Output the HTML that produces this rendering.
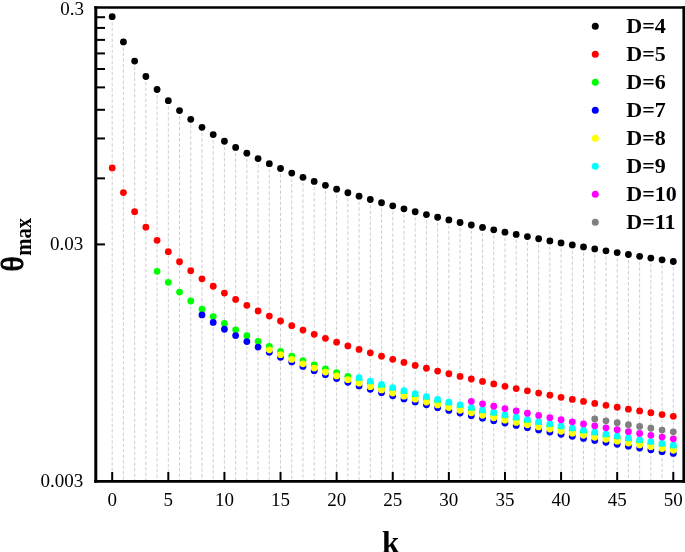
<!DOCTYPE html>
<html><head><meta charset="utf-8"><title>theta max vs k</title>
<style>html,body{margin:0;padding:0;background:#fff}svg{display:block}text{font-family:"Liberation Serif","Times New Roman",serif;fill:#000}</style></head><body>
<svg width="685" height="552" viewBox="0 0 685 552">
<rect width="685" height="552" fill="#fff"/>
<g stroke="#cfcfcf" stroke-width="1" stroke-dasharray="3.5 2" fill="none">
<line x1="112.20" y1="16.70" x2="112.20" y2="481.30"/>
<line x1="123.42" y1="41.88" x2="123.42" y2="481.30"/>
<line x1="134.64" y1="61.03" x2="134.64" y2="481.30"/>
<line x1="145.87" y1="76.50" x2="145.87" y2="481.30"/>
<line x1="157.09" y1="89.49" x2="157.09" y2="481.30"/>
<line x1="168.31" y1="100.70" x2="168.31" y2="481.30"/>
<line x1="179.53" y1="110.56" x2="179.53" y2="481.30"/>
<line x1="190.75" y1="119.36" x2="190.75" y2="481.30"/>
<line x1="201.98" y1="127.32" x2="201.98" y2="481.30"/>
<line x1="213.20" y1="134.58" x2="213.20" y2="481.30"/>
<line x1="224.42" y1="141.26" x2="224.42" y2="481.30"/>
<line x1="235.64" y1="147.45" x2="235.64" y2="481.30"/>
<line x1="246.86" y1="153.22" x2="246.86" y2="481.30"/>
<line x1="258.09" y1="158.62" x2="258.09" y2="481.30"/>
<line x1="269.31" y1="163.69" x2="269.31" y2="481.30"/>
<line x1="280.53" y1="168.49" x2="280.53" y2="481.30"/>
<line x1="291.75" y1="173.03" x2="291.75" y2="481.30"/>
<line x1="302.97" y1="177.34" x2="302.97" y2="481.30"/>
<line x1="314.20" y1="181.45" x2="314.20" y2="481.30"/>
<line x1="325.42" y1="185.37" x2="325.42" y2="481.30"/>
<line x1="336.64" y1="189.13" x2="336.64" y2="481.30"/>
<line x1="347.86" y1="192.73" x2="347.86" y2="481.30"/>
<line x1="359.08" y1="196.19" x2="359.08" y2="481.30"/>
<line x1="370.31" y1="199.52" x2="370.31" y2="481.30"/>
<line x1="381.53" y1="202.74" x2="381.53" y2="481.30"/>
<line x1="392.75" y1="205.84" x2="392.75" y2="481.30"/>
<line x1="403.97" y1="208.83" x2="403.97" y2="481.30"/>
<line x1="415.19" y1="211.73" x2="415.19" y2="481.30"/>
<line x1="426.42" y1="214.55" x2="426.42" y2="481.30"/>
<line x1="437.64" y1="217.27" x2="437.64" y2="481.30"/>
<line x1="448.86" y1="219.92" x2="448.86" y2="481.30"/>
<line x1="460.08" y1="222.50" x2="460.08" y2="481.30"/>
<line x1="471.30" y1="225.00" x2="471.30" y2="481.30"/>
<line x1="482.53" y1="227.44" x2="482.53" y2="481.30"/>
<line x1="493.75" y1="229.82" x2="493.75" y2="481.30"/>
<line x1="504.97" y1="232.14" x2="504.97" y2="481.30"/>
<line x1="516.19" y1="234.40" x2="516.19" y2="481.30"/>
<line x1="527.41" y1="236.61" x2="527.41" y2="481.30"/>
<line x1="538.64" y1="238.77" x2="538.64" y2="481.30"/>
<line x1="549.86" y1="240.88" x2="549.86" y2="481.30"/>
<line x1="561.08" y1="242.95" x2="561.08" y2="481.30"/>
<line x1="572.30" y1="244.97" x2="572.30" y2="481.30"/>
<line x1="583.52" y1="246.96" x2="583.52" y2="481.30"/>
<line x1="594.75" y1="248.90" x2="594.75" y2="481.30"/>
<line x1="605.97" y1="250.80" x2="605.97" y2="481.30"/>
<line x1="617.19" y1="252.67" x2="617.19" y2="481.30"/>
<line x1="628.41" y1="254.50" x2="628.41" y2="481.30"/>
<line x1="639.63" y1="256.30" x2="639.63" y2="481.30"/>
<line x1="650.86" y1="258.07" x2="650.86" y2="481.30"/>
<line x1="662.08" y1="259.81" x2="662.08" y2="481.30"/>
<line x1="673.30" y1="261.52" x2="673.30" y2="481.30"/>
</g>
<g stroke="#000" fill="none" stroke-linecap="butt">
<line x1="95.8" y1="6.2" x2="95.8" y2="482.7" stroke-width="3"/>
<line x1="94.3" y1="7.5" x2="685" y2="7.5" stroke-width="2.6"/>
<line x1="94.3" y1="481.3" x2="685" y2="481.3" stroke-width="2.7"/>
<line x1="683.9" y1="6.2" x2="683.9" y2="482.7" stroke-width="3"/>
<line x1="97" y1="244.40" x2="105" y2="244.40" stroke-width="2"/>
<line x1="97" y1="178.36" x2="105" y2="178.36" stroke-width="2"/>
<line x1="97" y1="138.47" x2="105" y2="138.47" stroke-width="2"/>
<line x1="97" y1="109.79" x2="105" y2="109.79" stroke-width="2"/>
<line x1="97" y1="87.39" x2="105" y2="87.39" stroke-width="2"/>
<line x1="97" y1="69.01" x2="105" y2="69.01" stroke-width="2"/>
<line x1="97" y1="53.42" x2="105" y2="53.42" stroke-width="2"/>
<line x1="97" y1="39.88" x2="105" y2="39.88" stroke-width="2"/>
<line x1="97" y1="27.92" x2="105" y2="27.92" stroke-width="2"/>
<line x1="97" y1="17.20" x2="105" y2="17.20" stroke-width="2"/>
<line x1="112.20" y1="472" x2="112.20" y2="480.5" stroke-width="2"/>
<line x1="168.31" y1="472" x2="168.31" y2="480.5" stroke-width="2"/>
<line x1="224.42" y1="472" x2="224.42" y2="480.5" stroke-width="2"/>
<line x1="280.53" y1="472" x2="280.53" y2="480.5" stroke-width="2"/>
<line x1="336.64" y1="472" x2="336.64" y2="480.5" stroke-width="2"/>
<line x1="392.75" y1="472" x2="392.75" y2="480.5" stroke-width="2"/>
<line x1="448.86" y1="472" x2="448.86" y2="480.5" stroke-width="2"/>
<line x1="504.97" y1="472" x2="504.97" y2="480.5" stroke-width="2"/>
<line x1="561.08" y1="472" x2="561.08" y2="480.5" stroke-width="2"/>
<line x1="617.19" y1="472" x2="617.19" y2="480.5" stroke-width="2"/>
<line x1="673.30" y1="472" x2="673.30" y2="480.5" stroke-width="2"/>
</g>
<g fill="#000000">
<circle cx="112.20" cy="16.70" r="3.4"/>
<circle cx="123.42" cy="41.88" r="3.4"/>
<circle cx="134.64" cy="61.03" r="3.4"/>
<circle cx="145.87" cy="76.50" r="3.4"/>
<circle cx="157.09" cy="89.49" r="3.4"/>
<circle cx="168.31" cy="100.70" r="3.4"/>
<circle cx="179.53" cy="110.56" r="3.4"/>
<circle cx="190.75" cy="119.36" r="3.4"/>
<circle cx="201.98" cy="127.32" r="3.4"/>
<circle cx="213.20" cy="134.58" r="3.4"/>
<circle cx="224.42" cy="141.26" r="3.4"/>
<circle cx="235.64" cy="147.45" r="3.4"/>
<circle cx="246.86" cy="153.22" r="3.4"/>
<circle cx="258.09" cy="158.62" r="3.4"/>
<circle cx="269.31" cy="163.69" r="3.4"/>
<circle cx="280.53" cy="168.49" r="3.4"/>
<circle cx="291.75" cy="173.03" r="3.4"/>
<circle cx="302.97" cy="177.34" r="3.4"/>
<circle cx="314.20" cy="181.45" r="3.4"/>
<circle cx="325.42" cy="185.37" r="3.4"/>
<circle cx="336.64" cy="189.13" r="3.4"/>
<circle cx="347.86" cy="192.73" r="3.4"/>
<circle cx="359.08" cy="196.19" r="3.4"/>
<circle cx="370.31" cy="199.52" r="3.4"/>
<circle cx="381.53" cy="202.74" r="3.4"/>
<circle cx="392.75" cy="205.84" r="3.4"/>
<circle cx="403.97" cy="208.83" r="3.4"/>
<circle cx="415.19" cy="211.73" r="3.4"/>
<circle cx="426.42" cy="214.55" r="3.4"/>
<circle cx="437.64" cy="217.27" r="3.4"/>
<circle cx="448.86" cy="219.92" r="3.4"/>
<circle cx="460.08" cy="222.50" r="3.4"/>
<circle cx="471.30" cy="225.00" r="3.4"/>
<circle cx="482.53" cy="227.44" r="3.4"/>
<circle cx="493.75" cy="229.82" r="3.4"/>
<circle cx="504.97" cy="232.14" r="3.4"/>
<circle cx="516.19" cy="234.40" r="3.4"/>
<circle cx="527.41" cy="236.61" r="3.4"/>
<circle cx="538.64" cy="238.77" r="3.4"/>
<circle cx="549.86" cy="240.88" r="3.4"/>
<circle cx="561.08" cy="242.95" r="3.4"/>
<circle cx="572.30" cy="244.97" r="3.4"/>
<circle cx="583.52" cy="246.96" r="3.4"/>
<circle cx="594.75" cy="248.90" r="3.4"/>
<circle cx="605.97" cy="250.80" r="3.4"/>
<circle cx="617.19" cy="252.67" r="3.4"/>
<circle cx="628.41" cy="254.50" r="3.4"/>
<circle cx="639.63" cy="256.30" r="3.4"/>
<circle cx="650.86" cy="258.07" r="3.4"/>
<circle cx="662.08" cy="259.81" r="3.4"/>
<circle cx="673.30" cy="261.52" r="3.4"/>
</g>
<g fill="#ff0000">
<circle cx="112.20" cy="167.91" r="3.4"/>
<circle cx="123.42" cy="192.62" r="3.4"/>
<circle cx="134.64" cy="211.68" r="3.4"/>
<circle cx="145.87" cy="227.22" r="3.4"/>
<circle cx="157.09" cy="240.34" r="3.4"/>
<circle cx="168.31" cy="251.71" r="3.4"/>
<circle cx="179.53" cy="261.73" r="3.4"/>
<circle cx="190.75" cy="270.71" r="3.4"/>
<circle cx="201.98" cy="278.83" r="3.4"/>
<circle cx="213.20" cy="286.26" r="3.4"/>
<circle cx="224.42" cy="293.10" r="3.4"/>
<circle cx="235.64" cy="299.43" r="3.4"/>
<circle cx="246.86" cy="305.34" r="3.4"/>
<circle cx="258.09" cy="310.88" r="3.4"/>
<circle cx="269.31" cy="316.09" r="3.4"/>
<circle cx="280.53" cy="321.00" r="3.4"/>
<circle cx="291.75" cy="325.66" r="3.4"/>
<circle cx="302.97" cy="330.09" r="3.4"/>
<circle cx="314.20" cy="334.31" r="3.4"/>
<circle cx="325.42" cy="338.33" r="3.4"/>
<circle cx="336.64" cy="342.19" r="3.4"/>
<circle cx="347.86" cy="345.89" r="3.4"/>
<circle cx="359.08" cy="349.44" r="3.4"/>
<circle cx="370.31" cy="352.86" r="3.4"/>
<circle cx="381.53" cy="356.15" r="3.4"/>
<circle cx="392.75" cy="359.33" r="3.4"/>
<circle cx="403.97" cy="362.41" r="3.4"/>
<circle cx="415.19" cy="365.38" r="3.4"/>
<circle cx="426.42" cy="368.26" r="3.4"/>
<circle cx="437.64" cy="371.06" r="3.4"/>
<circle cx="448.86" cy="373.77" r="3.4"/>
<circle cx="460.08" cy="376.41" r="3.4"/>
<circle cx="471.30" cy="378.98" r="3.4"/>
<circle cx="482.53" cy="381.47" r="3.4"/>
<circle cx="493.75" cy="383.91" r="3.4"/>
<circle cx="504.97" cy="386.28" r="3.4"/>
<circle cx="516.19" cy="388.60" r="3.4"/>
<circle cx="527.41" cy="390.86" r="3.4"/>
<circle cx="538.64" cy="393.06" r="3.4"/>
<circle cx="549.86" cy="395.22" r="3.4"/>
<circle cx="561.08" cy="397.33" r="3.4"/>
<circle cx="572.30" cy="399.40" r="3.4"/>
<circle cx="583.52" cy="401.43" r="3.4"/>
<circle cx="594.75" cy="403.41" r="3.4"/>
<circle cx="605.97" cy="405.35" r="3.4"/>
<circle cx="617.19" cy="407.26" r="3.4"/>
<circle cx="628.41" cy="409.13" r="3.4"/>
<circle cx="639.63" cy="410.96" r="3.4"/>
<circle cx="650.86" cy="412.77" r="3.4"/>
<circle cx="662.08" cy="414.54" r="3.4"/>
<circle cx="673.30" cy="416.28" r="3.4"/>
</g>
<g fill="#00ff00">
<circle cx="157.09" cy="271.34" r="3.4"/>
<circle cx="168.31" cy="282.31" r="3.4"/>
<circle cx="179.53" cy="292.03" r="3.4"/>
<circle cx="190.75" cy="301.02" r="3.4"/>
<circle cx="201.98" cy="309.16" r="3.4"/>
<circle cx="213.20" cy="316.60" r="3.4"/>
<circle cx="224.42" cy="323.46" r="3.4"/>
<circle cx="235.64" cy="329.81" r="3.4"/>
<circle cx="246.86" cy="335.73" r="3.4"/>
<circle cx="258.09" cy="341.28" r="3.4"/>
<circle cx="269.31" cy="346.51" r="3.4"/>
<circle cx="280.53" cy="351.44" r="3.4"/>
<circle cx="291.75" cy="356.11" r="3.4"/>
<circle cx="302.97" cy="360.55" r="3.4"/>
<circle cx="314.20" cy="364.79" r="3.4"/>
<circle cx="325.42" cy="368.83" r="3.4"/>
<circle cx="336.64" cy="372.70" r="3.4"/>
<circle cx="347.86" cy="376.41" r="3.4"/>
<circle cx="359.08" cy="379.98" r="3.4"/>
<circle cx="370.31" cy="383.41" r="3.4"/>
<circle cx="381.53" cy="386.72" r="3.4"/>
<circle cx="392.75" cy="389.92" r="3.4"/>
<circle cx="403.97" cy="393.01" r="3.4"/>
<circle cx="415.19" cy="396.00" r="3.4"/>
<circle cx="426.42" cy="398.89" r="3.4"/>
<circle cx="437.64" cy="401.70" r="3.4"/>
<circle cx="448.86" cy="404.43" r="3.4"/>
<circle cx="460.08" cy="407.09" r="3.4"/>
<circle cx="471.30" cy="409.67" r="3.4"/>
<circle cx="482.53" cy="412.18" r="3.4"/>
<circle cx="493.75" cy="414.63" r="3.4"/>
<circle cx="504.97" cy="417.01" r="3.4"/>
<circle cx="516.19" cy="419.35" r="3.4"/>
<circle cx="527.41" cy="421.62" r="3.4"/>
<circle cx="538.64" cy="423.84" r="3.4"/>
<circle cx="549.86" cy="426.02" r="3.4"/>
<circle cx="561.08" cy="428.14" r="3.4"/>
<circle cx="572.30" cy="430.23" r="3.4"/>
<circle cx="583.52" cy="432.27" r="3.4"/>
<circle cx="594.75" cy="434.26" r="3.4"/>
<circle cx="605.97" cy="436.22" r="3.4"/>
<circle cx="617.19" cy="438.14" r="3.4"/>
<circle cx="628.41" cy="440.03" r="3.4"/>
<circle cx="639.63" cy="441.88" r="3.4"/>
<circle cx="650.86" cy="443.70" r="3.4"/>
<circle cx="662.08" cy="445.48" r="3.4"/>
<circle cx="673.30" cy="447.24" r="3.4"/>
</g>
<g fill="#0000ff">
<circle cx="201.98" cy="314.93" r="3.4"/>
<circle cx="213.20" cy="322.38" r="3.4"/>
<circle cx="224.42" cy="329.25" r="3.4"/>
<circle cx="235.64" cy="335.61" r="3.4"/>
<circle cx="246.86" cy="341.54" r="3.4"/>
<circle cx="258.09" cy="347.10" r="3.4"/>
<circle cx="269.31" cy="352.34" r="3.4"/>
<circle cx="280.53" cy="357.28" r="3.4"/>
<circle cx="291.75" cy="361.96" r="3.4"/>
<circle cx="302.97" cy="366.41" r="3.4"/>
<circle cx="314.20" cy="370.66" r="3.4"/>
<circle cx="325.42" cy="374.71" r="3.4"/>
<circle cx="336.64" cy="378.59" r="3.4"/>
<circle cx="347.86" cy="382.31" r="3.4"/>
<circle cx="359.08" cy="385.89" r="3.4"/>
<circle cx="370.31" cy="389.33" r="3.4"/>
<circle cx="381.53" cy="392.65" r="3.4"/>
<circle cx="392.75" cy="395.86" r="3.4"/>
<circle cx="403.97" cy="398.96" r="3.4"/>
<circle cx="415.19" cy="401.96" r="3.4"/>
<circle cx="426.42" cy="404.86" r="3.4"/>
<circle cx="437.64" cy="407.68" r="3.4"/>
<circle cx="448.86" cy="410.42" r="3.4"/>
<circle cx="460.08" cy="413.09" r="3.4"/>
<circle cx="471.30" cy="415.68" r="3.4"/>
<circle cx="482.53" cy="418.20" r="3.4"/>
<circle cx="493.75" cy="420.66" r="3.4"/>
<circle cx="504.97" cy="423.05" r="3.4"/>
<circle cx="516.19" cy="425.40" r="3.4"/>
<circle cx="527.41" cy="427.68" r="3.4"/>
<circle cx="538.64" cy="429.91" r="3.4"/>
<circle cx="549.86" cy="432.10" r="3.4"/>
<circle cx="561.08" cy="434.23" r="3.4"/>
<circle cx="572.30" cy="436.33" r="3.4"/>
<circle cx="583.52" cy="438.38" r="3.4"/>
<circle cx="594.75" cy="440.38" r="3.4"/>
<circle cx="605.97" cy="442.35" r="3.4"/>
<circle cx="617.19" cy="444.28" r="3.4"/>
<circle cx="628.41" cy="446.18" r="3.4"/>
<circle cx="639.63" cy="448.04" r="3.4"/>
<circle cx="650.86" cy="449.87" r="3.4"/>
<circle cx="662.08" cy="451.66" r="3.4"/>
<circle cx="673.30" cy="453.43" r="3.4"/>
</g>
<g fill="#ffff00">
<circle cx="269.31" cy="349.79" r="3.4"/>
<circle cx="280.53" cy="354.71" r="3.4"/>
<circle cx="291.75" cy="359.38" r="3.4"/>
<circle cx="302.97" cy="363.81" r="3.4"/>
<circle cx="314.20" cy="368.04" r="3.4"/>
<circle cx="325.42" cy="372.07" r="3.4"/>
<circle cx="336.64" cy="375.94" r="3.4"/>
<circle cx="347.86" cy="379.64" r="3.4"/>
<circle cx="359.08" cy="383.20" r="3.4"/>
<circle cx="370.31" cy="386.63" r="3.4"/>
<circle cx="381.53" cy="389.93" r="3.4"/>
<circle cx="392.75" cy="393.12" r="3.4"/>
<circle cx="403.97" cy="396.20" r="3.4"/>
<circle cx="415.19" cy="399.18" r="3.4"/>
<circle cx="426.42" cy="402.07" r="3.4"/>
<circle cx="437.64" cy="404.88" r="3.4"/>
<circle cx="448.86" cy="407.60" r="3.4"/>
<circle cx="460.08" cy="410.25" r="3.4"/>
<circle cx="471.30" cy="412.82" r="3.4"/>
<circle cx="482.53" cy="415.33" r="3.4"/>
<circle cx="493.75" cy="417.77" r="3.4"/>
<circle cx="504.97" cy="420.15" r="3.4"/>
<circle cx="516.19" cy="422.47" r="3.4"/>
<circle cx="527.41" cy="424.74" r="3.4"/>
<circle cx="538.64" cy="426.96" r="3.4"/>
<circle cx="549.86" cy="429.12" r="3.4"/>
<circle cx="561.08" cy="431.24" r="3.4"/>
<circle cx="572.30" cy="433.32" r="3.4"/>
<circle cx="583.52" cy="435.35" r="3.4"/>
<circle cx="594.75" cy="437.34" r="3.4"/>
<circle cx="605.97" cy="439.29" r="3.4"/>
<circle cx="617.19" cy="441.21" r="3.4"/>
<circle cx="628.41" cy="443.08" r="3.4"/>
<circle cx="639.63" cy="444.93" r="3.4"/>
<circle cx="650.86" cy="446.74" r="3.4"/>
<circle cx="662.08" cy="448.52" r="3.4"/>
<circle cx="673.30" cy="450.26" r="3.4"/>
</g>
<g fill="#00ffff">
<circle cx="359.08" cy="377.64" r="3.4"/>
<circle cx="370.31" cy="381.08" r="3.4"/>
<circle cx="381.53" cy="384.40" r="3.4"/>
<circle cx="392.75" cy="387.61" r="3.4"/>
<circle cx="403.97" cy="390.71" r="3.4"/>
<circle cx="415.19" cy="393.71" r="3.4"/>
<circle cx="426.42" cy="396.61" r="3.4"/>
<circle cx="437.64" cy="399.43" r="3.4"/>
<circle cx="448.86" cy="402.17" r="3.4"/>
<circle cx="460.08" cy="404.84" r="3.4"/>
<circle cx="471.30" cy="407.43" r="3.4"/>
<circle cx="482.53" cy="409.95" r="3.4"/>
<circle cx="493.75" cy="412.41" r="3.4"/>
<circle cx="504.97" cy="414.80" r="3.4"/>
<circle cx="516.19" cy="417.15" r="3.4"/>
<circle cx="527.41" cy="419.43" r="3.4"/>
<circle cx="538.64" cy="421.66" r="3.4"/>
<circle cx="549.86" cy="423.85" r="3.4"/>
<circle cx="561.08" cy="425.98" r="3.4"/>
<circle cx="572.30" cy="428.08" r="3.4"/>
<circle cx="583.52" cy="430.13" r="3.4"/>
<circle cx="594.75" cy="432.13" r="3.4"/>
<circle cx="605.97" cy="434.10" r="3.4"/>
<circle cx="617.19" cy="436.03" r="3.4"/>
<circle cx="628.41" cy="437.93" r="3.4"/>
<circle cx="639.63" cy="439.79" r="3.4"/>
<circle cx="650.86" cy="441.62" r="3.4"/>
<circle cx="662.08" cy="443.41" r="3.4"/>
<circle cx="673.30" cy="445.18" r="3.4"/>
</g>
<g fill="#ff00ff">
<circle cx="471.30" cy="401.28" r="3.4"/>
<circle cx="482.53" cy="403.79" r="3.4"/>
<circle cx="493.75" cy="406.24" r="3.4"/>
<circle cx="504.97" cy="408.62" r="3.4"/>
<circle cx="516.19" cy="410.96" r="3.4"/>
<circle cx="527.41" cy="413.23" r="3.4"/>
<circle cx="538.64" cy="415.45" r="3.4"/>
<circle cx="549.86" cy="417.63" r="3.4"/>
<circle cx="561.08" cy="419.75" r="3.4"/>
<circle cx="572.30" cy="421.84" r="3.4"/>
<circle cx="583.52" cy="423.88" r="3.4"/>
<circle cx="594.75" cy="425.87" r="3.4"/>
<circle cx="605.97" cy="427.83" r="3.4"/>
<circle cx="617.19" cy="429.75" r="3.4"/>
<circle cx="628.41" cy="431.64" r="3.4"/>
<circle cx="639.63" cy="433.49" r="3.4"/>
<circle cx="650.86" cy="435.31" r="3.4"/>
<circle cx="662.08" cy="437.09" r="3.4"/>
<circle cx="673.30" cy="438.85" r="3.4"/>
</g>
<g fill="#808080">
<circle cx="594.75" cy="418.91" r="3.4"/>
<circle cx="605.97" cy="420.85" r="3.4"/>
<circle cx="617.19" cy="422.76" r="3.4"/>
<circle cx="628.41" cy="424.63" r="3.4"/>
<circle cx="639.63" cy="426.46" r="3.4"/>
<circle cx="650.86" cy="428.27" r="3.4"/>
<circle cx="662.08" cy="430.04" r="3.4"/>
<circle cx="673.30" cy="431.78" r="3.4"/>
</g>
<g font-size="19px" text-anchor="end">
<text x="84" y="14.6">0.3</text>
<text x="83.3" y="250.3">0.03</text>
<text x="83.3" y="487.2">0.003</text>
</g>
<g font-size="19px" text-anchor="middle">
<text x="112.20" y="506.2">0</text>
<text x="168.31" y="506.2">5</text>
<text x="224.42" y="506.2">10</text>
<text x="280.53" y="506.2">15</text>
<text x="336.64" y="506.2">20</text>
<text x="392.75" y="506.2">25</text>
<text x="448.86" y="506.2">30</text>
<text x="504.97" y="506.2">35</text>
<text x="561.08" y="506.2">40</text>
<text x="617.19" y="506.2">45</text>
<text x="673.30" y="506.2">50</text>
</g>
<text x="390.6" y="552.6" font-size="31px" font-weight="bold" text-anchor="middle">k</text>
<g transform="translate(22.8,271.4) rotate(-90)"><text transform="scale(1.0,1)" x="0" y="0" font-size="31.5px" stroke="#000" stroke-width="1.1" stroke-linejoin="round">θ</text><text transform="translate(15.6,8.2) scale(0.86,1)" x="0" y="0" font-size="24px" font-weight="bold">max</text></g>
<g font-size="22px" font-weight="bold">
<circle cx="595.3" cy="26.30" r="3.5" fill="#000000"/>
<text x="626.3" y="33.00">D=4</text>
<circle cx="595.3" cy="54.30" r="3.5" fill="#ff0000"/>
<text x="626.3" y="61.00">D=5</text>
<circle cx="595.3" cy="82.30" r="3.5" fill="#00ff00"/>
<text x="626.3" y="89.00">D=6</text>
<circle cx="595.3" cy="110.30" r="3.5" fill="#0000ff"/>
<text x="626.3" y="117.00">D=7</text>
<circle cx="595.3" cy="138.30" r="3.5" fill="#ffff00"/>
<text x="626.3" y="145.00">D=8</text>
<circle cx="595.3" cy="166.30" r="3.5" fill="#00ffff"/>
<text x="626.3" y="173.00">D=9</text>
<circle cx="595.3" cy="194.30" r="3.5" fill="#ff00ff"/>
<text x="626.3" y="201.00">D=10</text>
<circle cx="595.3" cy="222.30" r="3.5" fill="#808080"/>
<text x="626.3" y="229.00">D=11</text>
</g>
</svg></body></html>
